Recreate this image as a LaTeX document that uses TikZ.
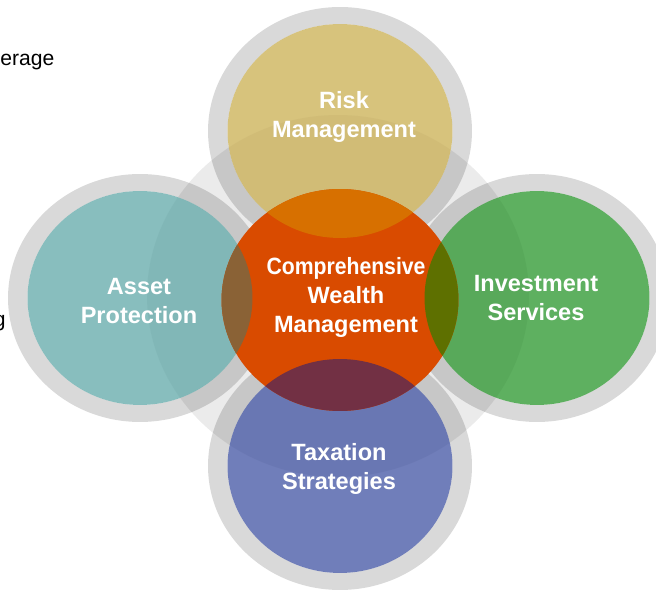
\documentclass[tikz,border=0pt]{standalone}
\usepackage{fontspec}
\setmainfont{Liberation Sans}
\usetikzlibrary{shapes.geometric}
\definecolor{backfill}{RGB}{235,235,235}
\definecolor{goldfill}{RGB}{198,169,69}
\definecolor{tealfill}{RGB}{85,162,162}
\definecolor{greenfill}{RGB}{26,142,29}
\definecolor{bluefill}{RGB}{51,71,156}
\definecolor{hubfill}{RGB}{217,75,0}
\definecolor{ovgold}{RGB}{215,112,0}
\definecolor{ovteal}{RGB}{138,98,54}
\definecolor{ovgreen}{RGB}{94,112,0}
\definecolor{ovblue}{RGB}{114,48,68}
\begin{document}
\begin{tikzpicture}[x=0.02cm, y=-0.02cm,
  petal/.style={ellipse, inner sep=0pt, minimum width=4.5cm, minimum height=4.28cm, fill opacity=0.7},
  hub/.style={ellipse, inner sep=0pt, minimum width=4.74cm, minimum height=4.44cm, fill=hubfill},
  rim/.style={fill=black, fill opacity=0.15, even odd rule},
  caption/.style={text=white, font=\fontsize{13.4}{16.5}\selectfont\bfseries, align=center},
  pagetext/.style={font=\fontsize{12}{14}\selectfont}]
  \useasboundingbox (0,0) rectangle (656,590);
  \clip (0,0) rectangle (656,590);
  % centres
  \coordinate (riskc) at (340,131);
  \coordinate (assetc) at (140,298);
  \coordinate (investc) at (537,298);
  \coordinate (taxc) at (340,466);
  \coordinate (hubc) at (340,300);
  % light disc behind everything
  \fill[backfill] (338,296) ellipse [x radius=3.82cm, y radius=3.62cm];
  % grey rims
  \foreach \c in {riskc,assetc,investc,taxc}
    \fill[rim] (\c) ellipse [x radius=2.64cm, y radius=2.48cm]
               ellipse [x radius=2.25cm, y radius=2.14cm];
  % petals and hub
  \node[petal, fill=goldfill] (risk) at (riskc) {};
  \node[petal, fill=tealfill] (asset) at (assetc) {};
  \node[petal, fill=greenfill] (invest) at (investc) {};
  \node[petal, fill=bluefill] (tax) at (taxc) {};
  \node[hub] (hub) at (hubc) {};
  % overlaps with the hub
  \foreach \c/\col in {riskc/ovgold, assetc/ovteal, investc/ovgreen, taxc/ovblue}{
    \begin{scope}
      \clip (hubc) ellipse [x radius=2.37cm, y radius=2.22cm];
      \fill[\col] (\c) ellipse [x radius=2.25cm, y radius=2.14cm];
    \end{scope}
  }
  % labels
  \node[caption] (risktext) at (344,117) {Risk\\Management};
  \node[caption] (assettext) at (139,301) {Asset\\Protection};
  \node[caption] (investtext) at (536,298) {Investment\\Services};
  \node[caption] (taxtext) at (339,469) {Taxation\\Strategies};
  \node[caption] (hubtext) at (346,297) {\scalebox{0.9}[1]{Comprehensive}\\Wealth\\Management};
  % cut-off slide text on the left
  \node[pagetext, anchor=base west, inner sep=0pt] (leftword) at (0,66) {erage};
  \node[pagetext, anchor=base east, inner sep=0pt] (leftletter) at (6,327) {g};
\end{tikzpicture}
\end{document}
